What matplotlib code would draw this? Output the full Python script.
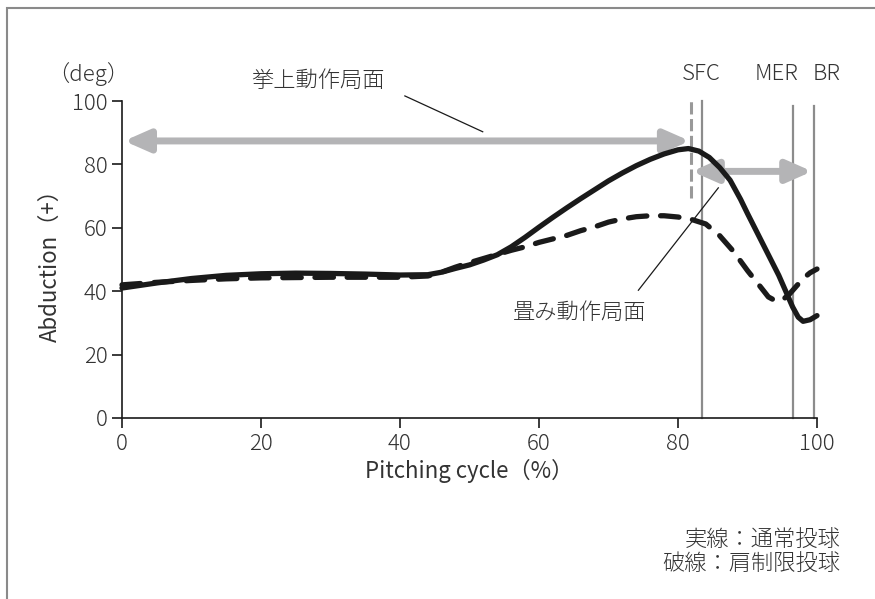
import matplotlib
matplotlib.use("Agg")
import matplotlib.pyplot as plt
from matplotlib.patches import Rectangle

plt.rcParams['font.family'] = ['Noto Sans CJK JP', 'DejaVu Sans']
plt.rcParams['font.weight'] = 'light'

# Solid line: normal pitching
solid_x = [0, 5, 10, 15, 20, 25, 30, 35, 40, 44, 46, 48, 50, 52, 54, 56, 58, 60, 62, 64, 66,
           68, 70, 72, 74, 76, 78, 80, 81.5, 83, 84.5, 86, 87.5, 89, 90, 91.5, 93, 94.5,
           95.5, 96.5, 97.3, 98, 99, 100]
solid_y = [41, 42.6, 44, 45, 45.5, 45.7, 45.6, 45.4, 45.1, 45.2, 46, 47.2, 48.3, 49.8, 51.5,
           54, 57, 60.2, 63.3, 66.3, 69.2, 72, 74.8, 77.3, 79.6, 81.6, 83.3, 84.6, 85, 84.2,
           82.2, 79, 75, 69, 64.5, 58, 51.5, 45, 40, 35, 31.8, 30.5, 31, 32.3]

# Dashed line: shoulder-restricted pitching
dash_x = [0, 5, 10, 15, 20, 30, 40, 44, 46, 48, 50, 52, 54, 56, 58, 60, 62, 64, 66, 68, 70,
          72, 74, 76, 78, 80, 82, 84, 86, 88, 90, 92, 93, 94, 95, 96, 97, 98, 99, 100]
dash_y = [42, 42.8, 43.4, 43.9, 44.2, 44.4, 44.4, 44.8, 46, 47.6, 49, 50.3, 51.6, 52.9, 54,
          55.4, 56.5, 57.6, 59.1, 60.3, 61.8, 62.8, 63.5, 63.8, 63.8, 63.4, 62.6, 61.2,
          57.5, 52.5, 46.5, 41, 38.2, 37, 37.2, 39, 41.5, 44, 45.8, 47]

event_names = ['SFC', 'MER', 'BR']
event_x = [83.5, 96.5, 99.5]
event_top = [100, 98.5, 98.5]
event_label_x = [83.3, 94.2, 101.4]

x_ticks = [0, 20, 40, 60, 80, 100]
y_ticks = [0, 20, 40, 60, 80, 100]

phase1_label = '挙上動作局面'
phase2_label = '畳み動作局面'
phase1_range = (0.3, 81.7, 87.4)
phase2_range = (82.0, 99.3, 77.8)
sfc_dash_x = 81.8
sfc_dash_range = (69.5, 100.5)

text_color = '#333333'
gray_line = '#8c8c8c'
arrow_color = '#b4b4b6'
FS = 16

fig = plt.figure(figsize=(8.75, 5.99), dpi=100)
ax = fig.add_axes([122/875, 1-418/599, (817-122)/875, (418-101)/599])

# outer frame
fig.patches.append(Rectangle((7/875, -0.05), 1.2, 1 - 8/599 + 0.05, transform=fig.transFigure,
                             fill=False, edgecolor='#8a8a8a', lw=1.5))

# event vertical lines
for ex, et in zip(event_x, event_top):
    ax.plot([ex, ex], [0, et], color=gray_line, lw=1.6, clip_on=False, zorder=2)

ax.plot([sfc_dash_x, sfc_dash_x], sfc_dash_range, color='#999999', lw=2.2,
        linestyle=(0, (4, 1.5)), clip_on=False, zorder=2)

ax.plot(solid_x, solid_y, color='#1a1a1a', lw=3.8, solid_capstyle='round',
        solid_joinstyle='round', zorder=4, clip_on=False)
ax.plot(dash_x, dash_y, color='#1a1a1a', lw=3.8, linestyle=(0, (3.5, 2.6)),
        dash_capstyle='round', dash_joinstyle='round', zorder=4, clip_on=False)

arrowstyle = '<|-|>,head_length=0.75,head_width=0.33'
for (x0, x1, yy) in [phase1_range, phase2_range]:
    ax.annotate('', xy=(x1, yy), xytext=(x0, yy),
                arrowprops=dict(arrowstyle=arrowstyle, mutation_scale=20, lw=5,
                                color=arrow_color, shrinkA=0, shrinkB=0),
                annotation_clip=False, zorder=3)

# phase labels with leader lines
ax.text(28.2, 106.3, phase1_label, ha='center', va='center', fontsize=FS, color=text_color)
ax.plot([40.7, 51.9], [101.6, 90.3], color='#1a1a1a', lw=0.9, clip_on=False)
ax.text(65.9, 33.0, phase2_label, ha='center', va='center', fontsize=FS, color=text_color)
ax.plot([74.3, 85.8], [40.3, 72.6], color='#1a1a1a', lw=0.9, clip_on=False)

for name, lx in zip(event_names, event_label_x):
    ax.text(lx, 108.5, name, ha='center', va='center', fontsize=FS, color=text_color)

ax.text(-4.8, 108.5, '（deg）', ha='center', va='center', fontsize=FS, color=text_color)

ax.set_xlim(0, 100)
ax.set_ylim(0, 100)
ax.set_xticks(x_ticks)
ax.set_yticks(y_ticks)
ax.tick_params(direction='out', length=7, width=1.2, colors='#1a1a1a',
               labelsize=FS, labelcolor=text_color)
for s in ['top', 'right']:
    ax.spines[s].set_visible(False)
for s in ['left', 'bottom']:
    ax.spines[s].set_linewidth(1.2)
    ax.spines[s].set_color('#1a1a1a')

ax.set_xlabel('Pitching cycle（%）', fontsize=FS, color=text_color, labelpad=3)
ax.set_ylabel('Abduction（+）', fontsize=FS, color=text_color, labelpad=7)

fig.text(840/875, 1-540/599, '実線：通常投球', ha='right', va='center', fontsize=FS, color=text_color)
fig.text(840/875, 1-564/599, '破線：肩制限投球', ha='right', va='center', fontsize=FS, color=text_color)

fig.savefig('out.png', dpi=100)
